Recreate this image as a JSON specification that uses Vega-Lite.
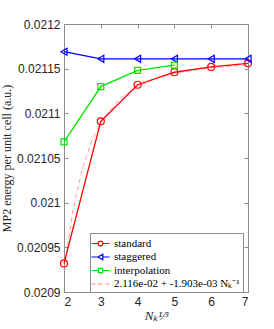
{
  "$schema": "https://vega.github.io/schema/vega-lite/v6.json",
  "width": 184,
  "height": 268,
  "autosize": {"type": "none"},
  "padding": {"left": 64, "top": 24, "right": 26, "bottom": 37},
  "background": "white",
  "config": {
    "view": {"stroke": null},
    "axis": {
      "grid": false,
      "domainColor": "#8c8c8c",
      "tickColor": "#8c8c8c",
      "tickSize": -4,
      "labelFont": "Liberation Sans",
      "labelFontSize": 12,
      "labelColor": "#262626",
      "titleFont": "Liberation Serif",
      "titleFontWeight": "normal",
      "titleColor": "#262626"
    }
  },
  "data": {
    "values": [
      {"x": 2, "y": 0.020932, "s": "standard"},
      {"x": 3, "y": 0.021091, "s": "standard"},
      {"x": 4, "y": 0.021132, "s": "standard"},
      {"x": 5, "y": 0.021146, "s": "standard"},
      {"x": 6, "y": 0.021152, "s": "standard"},
      {"x": 7, "y": 0.021156, "s": "standard"},
      {"x": 2, "y": 0.021169, "s": "staggered"},
      {"x": 3, "y": 0.021161, "s": "staggered"},
      {"x": 4, "y": 0.021161, "s": "staggered"},
      {"x": 5, "y": 0.021161, "s": "staggered"},
      {"x": 6, "y": 0.021161, "s": "staggered"},
      {"x": 7, "y": 0.021161, "s": "staggered"},
      {"x": 2, "y": 0.021068, "s": "interpolation"},
      {"x": 3, "y": 0.02113, "s": "interpolation"},
      {"x": 4, "y": 0.021148, "s": "interpolation"},
      {"x": 5, "y": 0.021154, "s": "interpolation"},
      {"x": 2, "y": 0.020925, "s": "fit"},
      {"x": 2.25, "y": 0.020993, "s": "fit"},
      {"x": 2.5, "y": 0.021038, "s": "fit"},
      {"x": 2.75, "y": 0.021069, "s": "fit"},
      {"x": 3, "y": 0.02109, "s": "fit"},
      {"x": 3.5, "y": 0.021116, "s": "fit"},
      {"x": 4, "y": 0.02113, "s": "fit"},
      {"x": 4.5, "y": 0.021139, "s": "fit"},
      {"x": 5, "y": 0.021145, "s": "fit"},
      {"x": 6, "y": 0.021151, "s": "fit"},
      {"x": 7, "y": 0.021154, "s": "fit"}
    ]
  },
  "layer": [
    {
      "transform": [{"filter": "datum.s == 'fit'"}],
      "mark": {"type": "line", "strokeDash": [5, 3], "strokeWidth": 0.8, "color": "#ff8c8c"},
      "encoding": {
        "x": {"field": "x", "type": "quantitative", "scale": {"domain": [2, 7]},
              "axis": {"orient": "bottom", "values": [2, 3, 4, 5, 6, 7], "title": "Nₖ¹⁄³", "titleFontSize": 13, "titleFontStyle": "italic", "labelPadding": 8, "titlePadding": 2}},
        "y": {"field": "y", "type": "quantitative", "scale": {"domain": [0.0209, 0.0212]},
              "axis": {"orient": "left", "values": [0.0209, 0.02095, 0.021, 0.02105, 0.0211, 0.02115, 0.0212], "format": "~g", "title": "MP2 energy per unit cell (a.u.)", "titleFontSize": 12, "labelPadding": 8, "titlePadding": 3}}
      }
    },
    {
      "transform": [{"filter": "datum.s != 'fit'"}],
      "mark": {"type": "line", "strokeWidth": 1.3},
      "encoding": {
        "x": {"field": "x", "type": "quantitative", "axis": {"orient": "top", "values": [2, 3, 4, 5, 6, 7], "labels": false, "title": null}},
        "y": {"field": "y", "type": "quantitative", "axis": {"orient": "right", "values": [0.0209, 0.02095, 0.021, 0.02105, 0.0211, 0.02115, 0.0212], "labels": false, "title": null}},
        "color": {"field": "s", "type": "nominal",
                  "scale": {"domain": ["standard", "staggered", "interpolation", "fit"], "range": ["#ff0000", "#0000ff", "#00e600", "#ff8c8c"]}}
      }
    },
    {
      "transform": [{"filter": "datum.s == 'none'"}],
      "mark": {"type": "point", "filled": false, "strokeWidth": 1.2, "opacity": 1},
      "encoding": {
        "x": {"field": "x", "type": "quantitative", "axis": null},
        "y": {"field": "y", "type": "quantitative", "axis": null},
        "color": {"field": "s", "type": "nominal",
                  "legend": {
                    "orient": "none", "legendX": 26, "legendY": 209, "title": null,
                    "labelExpr": "datum.value == 'fit' ? '2.116e-02 + -1.903e-03 Nₖ⁻¹' : datum.value",
                    "labelFont": "Liberation Serif", "labelFontSize": 11, "labelColor": "#000000",
                    "symbolSize": 169, "symbolStrokeWidth": 1.2, "labelOffset": 6,
                    "rowPadding": 0.5, "padding": 3,
                    "strokeColor": "#8c8c8c", "fillColor": "white"
                  }},
        "shape": {"field": "s", "type": "nominal",
                  "legend": {
                    "orient": "none", "legendX": 26, "legendY": 209, "title": null,
                    "labelExpr": "datum.value == 'fit' ? '2.116e-02 + -1.903e-03 Nₖ⁻¹' : datum.value",
                    "labelFont": "Liberation Serif", "labelFontSize": 11, "labelColor": "#000000",
                    "symbolSize": 169, "symbolStrokeWidth": 1.2, "labelOffset": 6,
                    "rowPadding": 0.5, "padding": 3,
                    "strokeColor": "#8c8c8c", "fillColor": "white"
                  },
                  "scale": {"domain": ["standard", "staggered", "interpolation", "fit"],
                            "range": ["M-1.4,0H-0.38M0.38,0H1.4M0.38,0A0.38,0.38 0 1,1 -0.38,0A0.38,0.38 0 1,1 0.38,0",
                                      "M-1.4,0H-0.4M0.35,0H1.4M-0.4,0L0.35,-0.42L0.35,0.42Z",
                                      "M-1.4,0H-0.33M0.33,0H1.4M-0.33,-0.33H0.33V0.33H-0.33Z",
                                      "M-1.4,0H-0.8M-0.45,0H0.35M0.7,0H1.4"]}}
      }
    },
    {
      "transform": [{"filter": "datum.s == 'standard'"}],
      "mark": {"type": "point", "filled": false, "size": 49, "strokeWidth": 1.2, "opacity": 1, "shape": "circle"},
      "encoding": {
        "x": {"field": "x", "type": "quantitative", "axis": null},
        "y": {"field": "y", "type": "quantitative", "axis": null},
        "color": {"field": "s", "type": "nominal"}
      }
    },
    {
      "transform": [{"filter": "datum.s == 'staggered'"}],
      "mark": {"type": "point", "filled": false, "size": 49, "strokeWidth": 1.2, "opacity": 1, "shape": "triangle-left"},
      "encoding": {
        "x": {"field": "x", "type": "quantitative", "axis": null},
        "y": {"field": "y", "type": "quantitative", "axis": null},
        "color": {"field": "s", "type": "nominal"}
      }
    },
    {
      "transform": [{"filter": "datum.s == 'interpolation'"}],
      "mark": {"type": "point", "filled": false, "size": 36, "strokeWidth": 1.2, "opacity": 1, "shape": "square"},
      "encoding": {
        "x": {"field": "x", "type": "quantitative", "axis": null},
        "y": {"field": "y", "type": "quantitative", "axis": null},
        "color": {"field": "s", "type": "nominal"}
      }
    }
  ]
}
